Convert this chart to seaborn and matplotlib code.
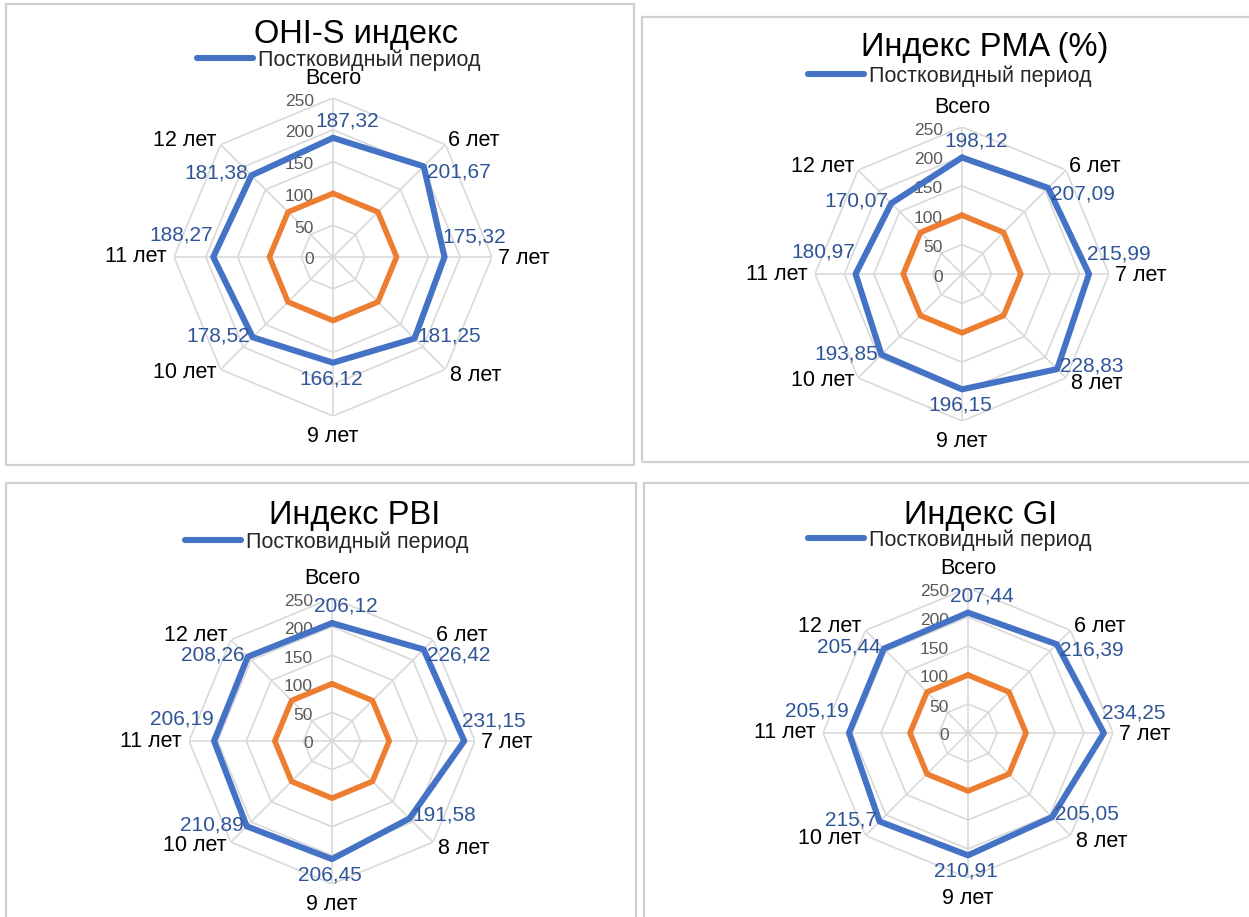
import numpy as np
import pandas as pd
import matplotlib
matplotlib.use("Agg")
import matplotlib.pyplot as plt
import seaborn as sns
from matplotlib.patches import Rectangle

# ---- data -------------------------------------------------------------
categories = ["Всего", "6 лет", "7 лет", "8 лет", "9 лет", "10 лет", "11 лет", "12 лет"]
series_label = "Постковидный период"
titles = ["OHI-S индекс", "Индекс PMA (%)", "Индекс PBI", "Индекс GI"]

ohis_post = [187.32, 201.67, 175.32, 181.25, 166.12, 178.52, 188.27, 181.38]
pma_post = [198.12, 207.09, 215.99, 228.83, 196.15, 193.85, 180.97, 170.07]
pbi_post = [206.12, 226.42, 231.15, 191.58, 206.45, 210.89, 206.19, 208.26]
gi_post = [207.44, 216.39, 234.25, 205.05, 210.91, 215.7, 205.19, 205.44]
base_level = [100, 100, 100, 100, 100, 100, 100, 100]

radial_ticks = [0, 50, 100, 150, 200, 250]

# ---- style ------------------------------------------------------------
sns.set_theme(style="white")
plt.rcParams["font.family"] = ["Liberation Sans", "DejaVu Sans"]

BLUE = "#4472C4"
ORANGE = "#ED7D31"
LABEL_BLUE = "#2F5597"
GRID = "#D9D9D9"
TICK_GREY = "#595959"

W, H = 1249, 917


def fx(px):
    return px / W


def fy(py):
    return 1 - py / H


# panel geometry in pixels
layout = [
    dict(rect=(6, 4, 634, 465), center=(333, 257), radius=159, title=(356, 43), legend=(197, 60)),
    dict(rect=(642, 17, 1262, 462), center=(962, 274), radius=147, title=(985, 56), legend=(808, 76)),
    dict(rect=(6, 483, 636, 935), center=(332, 741), radius=143, title=(355, 524), legend=(185, 542)),
    dict(rect=(644, 483, 1262, 935), center=(968, 733), radius=145, title=(981, 524), legend=(808, 540)),
]

# text offsets (px: right, up) around each spoke
cat_offsets = [(0, 20, "center"), (3, 4, "left"), (6, -1, "left"), (5, -6, "left"),
               (0, -20, "center"), (-4, -3, "right"), (-7, 0, "right"), (-4, 4, "right")]
val_offsets = [(14, 17, "center"), (3, -6, "left"), (-2, 20, "left"), (3, 3, "left"),
               (-2, -16, "center"), (-3, 1, "right"), (0, 22, "right"), (-3, 2, "right")]

PT = 72 / 100  # px -> pt at 100 dpi

fig = plt.figure(figsize=(W / 100, H / 100), dpi=100)
fig.patch.set_facecolor("white")

n = len(categories)
theta = np.linspace(0, 2 * np.pi, n, endpoint=False)
theta_closed = np.append(theta, 2 * np.pi)

all_series = [ohis_post, pma_post, pbi_post, gi_post]

for title, values, lay in zip(titles, all_series, layout):
    x0, y0, x1, y1 = lay["rect"]
    fig.patches.append(Rectangle((fx(x0), fy(y1)), (x1 - x0) / W, (y1 - y0) / H,
                                 transform=fig.transFigure, fill=False,
                                 edgecolor="#D0D0D0", linewidth=1.6, zorder=0))

    cx, cy = lay["center"]
    R = lay["radius"]
    ax = fig.add_axes([fx(cx - R), fy(cy + R), 2 * R / W, 2 * R / H], projection="polar")
    ax.set_theta_zero_location("N")
    ax.set_theta_direction(-1)
    ax.set_ylim(0, radial_ticks[-1])
    ax.set_facecolor("none")
    ax.grid(False)
    ax.set_xticks([])
    ax.set_yticks([])
    ax.spines["polar"].set_visible(False)

    # octagonal grid and spokes
    for lvl in radial_ticks[1:]:
        ax.plot(theta_closed, [lvl] * (n + 1), color=GRID, lw=1.2, zorder=1)
    for t in theta:
        ax.plot([t, t], [0, radial_ticks[-1]], color=GRID, lw=1.2, zorder=1)

    base_df = pd.DataFrame({"theta": theta_closed, "value": base_level + base_level[:1]})
    post_df = pd.DataFrame({"theta": theta_closed, "value": values + values[:1]})
    sns.lineplot(data=base_df, x="theta", y="value", ax=ax, sort=False, estimator=None,
                 color=ORANGE, lw=4.0, zorder=3)
    sns.lineplot(data=post_df, x="theta", y="value", ax=ax, sort=False, estimator=None,
                 color=BLUE, lw=4.4, zorder=4)
    post_line = ax.lines[-1]
    ax.set_xlabel("")
    ax.set_ylabel("")

    # radial axis labels
    for lvl in radial_ticks:
        ax.annotate(str(lvl), xy=(0, lvl), xytext=(-19 * PT, -3 * PT),
                    textcoords="offset points", ha="right", va="center",
                    fontsize=12.5, color=TICK_GREY, zorder=2)

    # category labels
    for t, cat, (dx, dy, ha) in zip(theta, categories, cat_offsets):
        ax.annotate(cat, xy=(t, radial_ticks[-1]), xytext=(dx * PT, dy * PT),
                    textcoords="offset points", ha=ha, va="center",
                    fontsize=15.5, color="black", annotation_clip=False)

    # value labels
    for t, v, (dx, dy, ha) in zip(theta, values, val_offsets):
        ax.annotate(f"{v}".replace(".", ","), xy=(t, v), xytext=(dx * PT, dy * PT),
                    textcoords="offset points", ha=ha, va="center",
                    fontsize=15, color=LABEL_BLUE, zorder=5, annotation_clip=False)

    tx, ty = lay["title"]
    fig.text(fx(tx), fy(ty), title, ha="center", va="baseline", fontsize=23.5, color="black")

    lx, ly = lay["legend"]
    ax.legend(handles=[post_line], labels=[series_label], loc="center left",
              bbox_to_anchor=(fx(lx), fy(ly)), bbox_transform=fig.transFigure,
              frameon=False, borderpad=0, borderaxespad=0, handlelength=2.6,
              handletextpad=0.25, fontsize=15.5)

fig.savefig("out.png", dpi=100, facecolor="white")
